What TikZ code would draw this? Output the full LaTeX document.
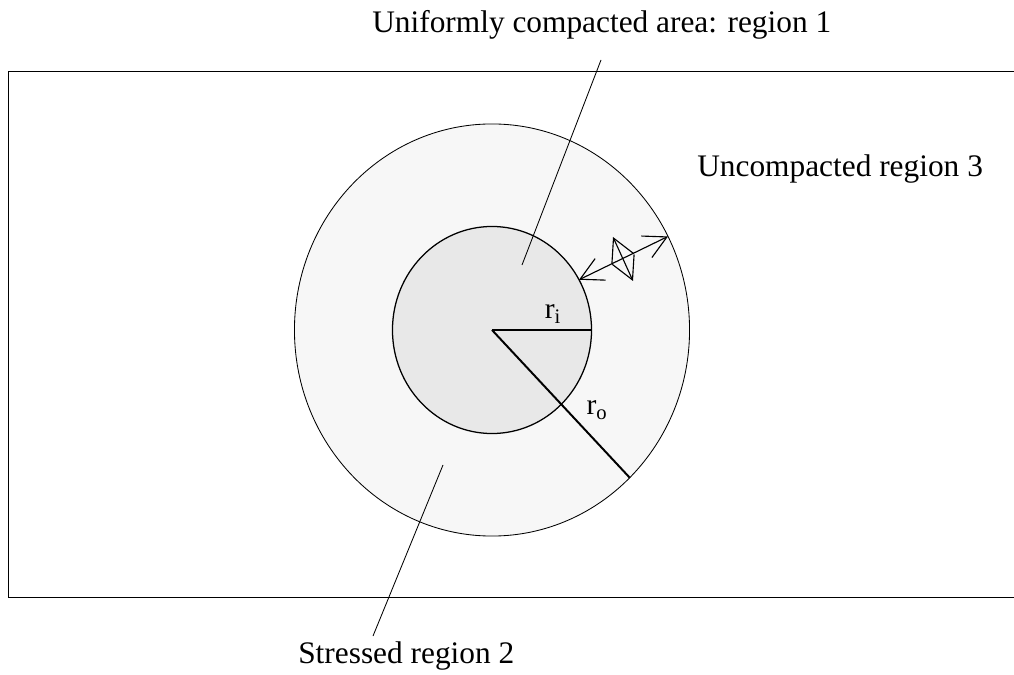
\documentclass[tikz,border=0pt]{standalone}
\usepackage{fontspec}
\setmainfont{Liberation Serif}
\usetikzlibrary{arrows.meta,shapes.geometric}

\begin{document}
\begin{tikzpicture}[x=0.025cm,y=-0.025cm,
    >={Straight Barb[length=16pt,width=17pt]},
    lbl/.style={font=\fontsize{22.3}{25}\selectfont,inner sep=0pt},
    rad/.style={font=\fontsize{21}{23}\selectfont,inner sep=0pt},
    zone/.style={ellipse,draw,inner sep=0pt,outer sep=0pt}]
  \useasboundingbox (0,0) rectangle (1014,675);
  % frame, open to the right
  \draw[line width=0.6pt] (1014,71) -- (8,71) -- (8,597) -- (1014,597);
  % regions 2 and 1
  \coordinate (c) at (492,330);
  \node[zone,line width=0.6pt,fill=gray!6,minimum width=9.875cm,minimum height=10.3cm]
    (outer) at (c) {};
  \node[zone,line width=0.9pt,fill=gray!18,minimum width=4.975cm,minimum height=5.175cm]
    (inner) at (c) {};
  % radii
  \draw[line width=1.4pt] (c) -- (inner.east);
  \draw[line width=1.4pt] (c) -- (outer.-47);
  \node[rad] (ri) at (553,314) {r\textsubscript{i}};
  \node[rad] (ro) at (597,410) {r\textsubscript{o}};
  % arrows across region 2
  \draw[<->,line width=0.8pt] (inner.30) -- (outer.28);
  \coordinate (a1) at (613,237);
  \coordinate (a2) at (633,281);
  \draw[<->,line width=0.8pt] (a1) -- (a2);
  % labels with leaders
  \node[lbl,anchor=base west] (reg1) at (372,33) {Uniformly compacted area: region 1};
  \node[lbl,anchor=base west] (reg3) at (697,177) {Uncompacted region 3};
  \node[lbl,anchor=base west] (reg2) at (298,663) {Stressed region 2};
  \coordinate (p1) at (601,60);
  \coordinate (q1) at (522,265);
  \coordinate (p2) at (373,636);
  \coordinate (q2) at (443,465);
  \draw[line width=0.6pt] (p1) -- (q1);
  \draw[line width=0.6pt] (p2) -- (q2);
\end{tikzpicture}
\end{document}
